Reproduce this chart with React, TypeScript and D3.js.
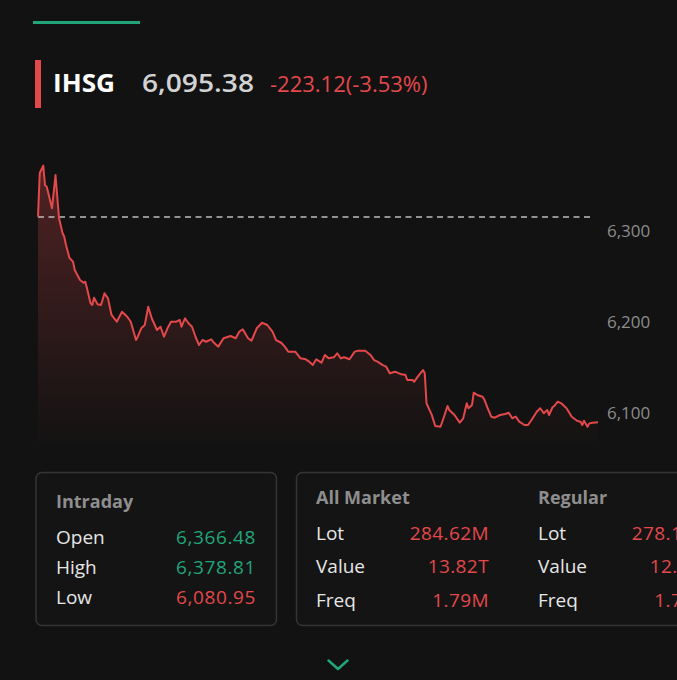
import React, { useEffect } from 'react';
import * as d3 from 'd3';

// minutes from the open on the compressed session axis, and index level
const minutes = [
  0, 1, 3, 4, 5, 8, 10, 12, 14, 15, 16, 18, 20, 21, 24, 26, 27, 28, 30, 31,
  32, 34, 36, 38, 40, 42, 45, 48, 51, 53, 56, 57, 59, 61, 63, 65, 68, 70, 72, 74,
  76, 79, 81, 82, 84, 86, 88, 90, 92, 94, 96, 99, 100, 103, 106, 110, 113, 115, 117, 120,
  122, 125, 128, 131, 134, 136, 139, 141, 143, 147, 150, 153, 155, 157, 159, 162, 164, 166, 169, 171,
  173, 175, 178, 181, 183, 187, 190, 192, 194, 197, 199, 201, 204, 207, 210, 211, 214, 215, 217, 220,
  221, 222, 225, 227, 230, 232, 234, 235, 238, 241, 243, 245, 246, 248, 249, 251, 254, 255, 257, 259,
  261, 264, 267, 269, 271, 273, 275, 278, 280, 282, 285, 287, 289, 291, 292, 294, 295, 297, 299, 302,
  305, 308, 310, 311, 312, 314, 315, 317, 320,
];
const prices = [
  6321.2, 6369.2, 6377.3, 6356.0, 6354.2, 6330.4, 6367.0, 6319.8, 6303.3, 6299.2,
  6290.1, 6275.8, 6271.8, 6262.6, 6251.6, 6248.7, 6249.8, 6242.5, 6226.0, 6224.2,
  6232.2, 6224.9, 6224.2, 6237.0, 6231.5, 6213.2, 6205.8, 6216.8, 6211.3, 6205.8,
  6185.7, 6189.3, 6198.6, 6202.2, 6222.3, 6209.6, 6196.7, 6200.3, 6189.3, 6198.6,
  6205.8, 6205.8, 6207.7, 6200.3, 6209.6, 6204.1, 6200.3, 6189.3, 6180.2, 6185.7,
  6183.8, 6186.5, 6183.8, 6178.4, 6187.6, 6190.1, 6187.6, 6194.8, 6197.5, 6187.6,
  6184.9, 6198.6, 6204.7, 6202.2, 6194.8, 6185.7, 6182.7, 6178.4, 6172.9, 6172.9,
  6165.6, 6164.5, 6161.9, 6158.2, 6164.5, 6160.8, 6169.3, 6165.6, 6166.7, 6171.1,
  6165.6, 6166.7, 6164.5, 6172.9, 6174.0, 6174.0, 6169.3, 6163.7, 6161.9, 6158.2,
  6156.4, 6149.1, 6150.9, 6148.4, 6147.3, 6141.8, 6141.8, 6139.9, 6145.4, 6152.7,
  6149.1, 6116.2, 6103.4, 6091.2, 6090.4, 6101.4, 6113.2, 6108.8, 6103.3, 6094.9,
  6099.7, 6116.2, 6110.7, 6114.3, 6127.8, 6125.3, 6123.4, 6120.5, 6110.7, 6101.4,
  6100.3, 6103.3, 6104.4, 6105.8, 6099.7, 6101.5, 6096.0, 6092.3, 6092.3, 6097.8,
  6106.9, 6110.7, 6105.2, 6108.8, 6103.3, 6111.8, 6113.2, 6117.9, 6116.1, 6110.7,
  6101.4, 6097.0, 6095.9, 6092.3, 6097.0, 6090.4, 6094.1, 6094.8, 6095.38,
];
const yTicks = [6300, 6200, 6100];
const prevCloseLine = 6321;

const ticker = 'IHSG';
const lastPrice = '6,095.38';
const change = '-223.12(-3.53%)';

const intradayLabels = ['Open', 'High', 'Low'];
const intradayValues = ['6,366.48', '6,378.81', '6,080.95'];
const intradayUp = [true, true, false];

const marketLabels = ['Lot', 'Value', 'Freq'];
const allMarketValues = ['284.62M', '13.82T', '1.79M'];
const regularValues = ['278.17M', '12.98T', '1.78M'];

const W = 677;
const H = 680;
const BG = '#121212';
const RED = '#e3484b';
const GREEN = '#22a57a';
const FONT = '"Open Sans", sans-serif';

const x = d3.scaleLinear().domain([0, 320]).range([38, 598]);
const y = d3.scaleLinear().domain([6100, 6300]).range([418, 236]);

const App: React.FC = () => {
  useEffect(() => {
    document.body.style.margin = '0';
    document.body.style.background = BG;
  }, []);

  const pts = minutes.map((m, i) => [m, prices[i]] as [number, number]);
  const line = d3.line<[number, number]>().x(d => x(d[0])).y(d => y(d[1]))(pts) || '';
  const area = d3.area<[number, number]>().x(d => x(d[0])).y0(452).y1(d => y(d[1]))(pts) || '';

  return (
    <svg width={W} height={H} style={{ display: 'block', background: BG }} fontFamily={FONT}>
      <defs>
        <linearGradient id="fade" gradientUnits="userSpaceOnUse" x1="0" y1="165" x2="0" y2="452">
          <stop offset="0" stopColor={RED} stopOpacity={0.3} />
          <stop offset="1" stopColor={RED} stopOpacity={0} />
        </linearGradient>
      </defs>
      <rect width={W} height={H} fill={BG} />

      {/* tab indicator */}
      <rect x={33} y={21} width={107} height={3} fill={GREEN} />

      {/* header */}
      <rect x={35} y={60} width={6} height={48} fill={RED} />
      <text x={53} y={92} fontSize={25} fontWeight={700} fill="#ffffff"
        textLength={62} lengthAdjust="spacingAndGlyphs">{ticker}</text>
      <text x={142} y={92} fontSize={25} fontWeight={600} fill="#d2d2d2"
        textLength={112} lengthAdjust="spacingAndGlyphs">{lastPrice}</text>
      <text x={270} y={92} fontSize={22} fill={RED}>{change}</text>

      {/* chart */}
      <path d={area} fill="url(#fade)" />
      <line x1={38} x2={594} y1={y(prevCloseLine)} y2={y(prevCloseLine)}
        stroke="#bdbdbd" strokeWidth={1.5} strokeDasharray="6,4.5" />
      <path d={line} fill="none" stroke={RED} strokeWidth={2} strokeLinejoin="round" />
      {yTicks.map(t => (
        <text key={t} x={607} y={y(t) + 1} fontSize={17} fill="#8c8c8c">{d3.format(',')(t)}</text>
      ))}

      {/* intraday card */}
      <rect x={36} y={472.5} width={240.5} height={153} rx={6} fill="#141414" stroke="#353535" strokeWidth={1.5} />
      <text x={56} y={508} fontSize={18} fontWeight={700} fill="#8e8e8e">Intraday</text>
      {intradayLabels.map((l, i) => (
        <g key={l}>
          <text x={56} y={543.5 + i * 30} fontSize={19} fill="#e6e6e6">{l}</text>
          <text x={256} y={543.5 + i * 30} fontSize={19} textAnchor="end" letterSpacing={0.6}
            fill={intradayUp[i] ? GREEN : RED}>{intradayValues[i]}</text>
        </g>
      ))}

      {/* market card */}
      <rect x={296.5} y={472.5} width={420} height={153} rx={6} fill="#141414" stroke="#353535" strokeWidth={1.5} />
      <text x={316} y={503.5} fontSize={18} fontWeight={700} fill="#8e8e8e">All Market</text>
      <text x={538} y={503.5} fontSize={18} fontWeight={700} fill="#8e8e8e">Regular</text>
      {marketLabels.map((l, i) => (
        <g key={l}>
          <text x={316} y={540 + i * 33.3} fontSize={19} fill="#e6e6e6">{l}</text>
          <text x={489} y={540 + i * 33.3} fontSize={19} textAnchor="end" letterSpacing={0.4}
            fill={RED}>{allMarketValues[i]}</text>
          <text x={538} y={540 + i * 33.3} fontSize={19} fill="#e6e6e6">{l}</text>
          <text x={711} y={540 + i * 33.3} fontSize={19} textAnchor="end" letterSpacing={0.4}
            fill={RED}>{regularValues[i]}</text>
        </g>
      ))}

      {/* expand chevron */}
      <path d="M328.5,660.5 L338,669 L347.5,660.5" fill="none" stroke={GREEN} strokeWidth={2.5}
        strokeLinecap="round" strokeLinejoin="round" />
    </svg>
  );
};

export default App;
